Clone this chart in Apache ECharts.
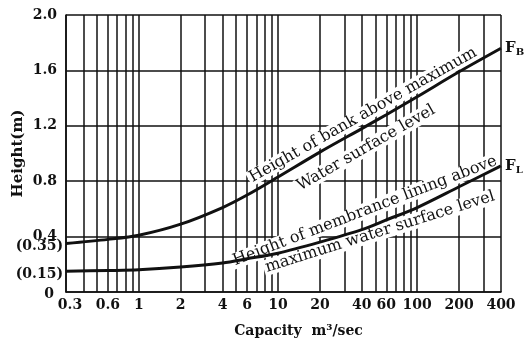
<!DOCTYPE html>
<html><head><meta charset="utf-8">
<script src="https://cdn.jsdelivr.net/npm/echarts@6/dist/echarts.min.js"></script>
<style>html,body{margin:0;padding:0;background:#fff}#c{width:526px;height:341px}</style>
</head><body><div id="c"></div>
<script>
// Data
const capacity = [0.3, 0.6, 1, 2, 4, 6, 10, 20, 40, 60, 100, 200, 400];
const heightFB = [0.35, 0.38, 0.41, 0.49, 0.61, 0.70, 0.83, 1.01, 1.18, 1.28, 1.41, 1.59, 1.76];
const heightFL = [0.15, 0.155, 0.16, 0.18, 0.21, 0.24, 0.28, 0.36, 0.45, 0.52, 0.61, 0.76, 0.91];
const xGridValues = [0.3,0.4,0.5,0.6,0.7,0.8,0.9,1,2,3,4,5,6,7,8,9,10,20,30,40,50,60,70,80,90,100,200,300,400];
const xTickLabels = [0.3, 0.6, 1, 2, 4, 6, 10, 20, 40, 60, 100, 200, 400];
const yTickLabels = [0, 0.15, 0.35, 0.4, 0.8, 1.2, 1.6, 2.0];
const yParenLabels = [0.15, 0.35];
const curveLabels = [
  {text: 'Height of bank above maximum', x: 363, y: 115, angle: 29.5},
  {text: 'Water surface level', x: 366, y: 148, angle: 30},
  {text: 'Height of membrance lining above', x: 365, y: 211, angle: 21},
  {text: 'maximum water surface level', x: 380, y: 232, angle: 17.5}
];

const FONT = '"DejaVu Serif", "Liberation Serif", serif';
const chart = echarts.init(document.getElementById('c'));
const pairs = (xs, ys) => xs.map((x, i) => [x, ys[i]]);
const tick = {fontFamily: FONT, fontSize: 14, fontWeight: 'bold', color: '#111'};

chart.setOption({
  animation: false,
  backgroundColor: '#fff',
  grid: {left: 66, top: 15, right: 25, bottom: 49, containLabel: false, outerBoundsMode: 'none'},
  xAxis: {
    type: 'log', logBase: 10, min: 0.3, max: 400,
    name: 'Capacity  m³/sec', nameLocation: 'middle', nameGap: 32, nameMoveOverlap: false,
    nameTextStyle: Object.assign({}, tick, {padding: [0, 0, 0, 30]}),
    axisLine: {show: true, lineStyle: {color: '#111', width: 1.6}},
    axisTick: {show: false, customValues: xGridValues},
    splitLine: {show: true, lineStyle: {color: '#111', width: 1.5}},
    axisLabel: Object.assign({}, tick, {
      customValues: xTickLabels, margin: 6,
      formatter: v => v === 0.3 ? '{s|0.3}' : String(v),
      rich: {s: Object.assign({}, tick, {padding: [0, 0, 0, 8]})}
    })
  },
  yAxis: {
    type: 'value', min: 0, max: 2, interval: 0.4,
    name: 'Height(m)', nameLocation: 'middle', nameGap: 40, nameRotate: 90, nameMoveOverlap: false,
    nameTextStyle: {fontFamily: FONT, fontSize: 15, fontWeight: 'bold', color: '#111'},
    axisLine: {show: true, lineStyle: {color: '#111', width: 1.6}},
    axisTick: {show: false},
    splitLine: {show: true, lineStyle: {color: '#111', width: 1.5}},
    axisLabel: {
      customValues: yTickLabels, margin: 3,
      formatter: v => {
        if (v === 0) return '{z|0}';
        if (yParenLabels.indexOf(v) >= 0) return '{p|(' + v.toFixed(2) + ')}';
        return '{n|' + v.toFixed(1) + '}';
      },
      rich: {
        z: Object.assign({}, tick, {padding: [4, 9, 0, 0]}),
        p: Object.assign({}, tick, {padding: [6, 0, 0, 0]}),
        n: Object.assign({}, tick, {padding: [0, 6, 0, 0]})
      }
    }
  },
  series: [
    {
      type: 'line', data: pairs(capacity, heightFB), smooth: 0.3, symbol: 'none',
      lineStyle: {color: '#111', width: 3}, z: 5,
      endLabel: {show: true, formatter: '{f|F}{b|B}', distance: 4,
        rich: {f: {fontFamily: FONT, fontSize: 15, fontWeight: 'bold', color: '#111'},
               b: {fontFamily: FONT, fontSize: 10, fontWeight: 'bold', color: '#111', padding: [8, 0, 0, 0]}}}
    },
    {
      type: 'line', data: pairs(capacity, heightFL), smooth: 0.3, symbol: 'none',
      lineStyle: {color: '#111', width: 3}, z: 5,
      endLabel: {show: true, formatter: '{f|F}{b|L}', distance: 4,
        rich: {f: {fontFamily: FONT, fontSize: 15, fontWeight: 'bold', color: '#111'},
               b: {fontFamily: FONT, fontSize: 10, fontWeight: 'bold', color: '#111', padding: [8, 0, 0, 0]}}}
    }
  ],
  graphic: curveLabels.map(l => ({
    type: 'text', x: l.x, y: l.y, rotation: l.angle * Math.PI / 180, z: 1,
    style: {text: l.text, fontFamily: FONT, fontSize: 16, fill: '#111',
      align: 'center', verticalAlign: 'middle', backgroundColor: '#fff', padding: [0, 2]}
  }))
});
</script></body></html>
